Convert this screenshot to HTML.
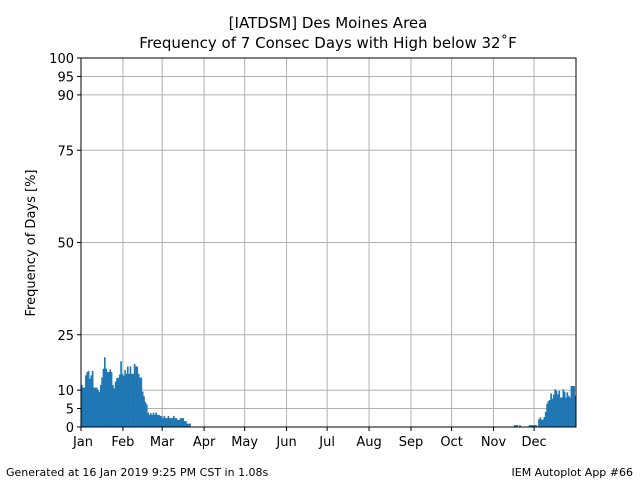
<!DOCTYPE html>
<html><head><meta charset="utf-8"><style>
body{margin:0;background:#fff;font-family:"Liberation Sans","DejaVu Sans",sans-serif}
</style></head><body>
<svg width="640" height="480" xmlns="http://www.w3.org/2000/svg" font-family="DejaVu Sans, Liberation Sans, sans-serif">
<text x="328" y="28" text-anchor="middle" font-size="15">[IATDSM] Des Moines Area</text>
<text x="328" y="48" text-anchor="middle" font-size="15">Frequency of 7 Consec Days with High below 32˚F</text>
<g id="grid"></g>
<g id="bars"></g>
<g id="axes"></g>
<text transform="translate(35,243) rotate(-90)" text-anchor="middle" font-size="13">Frequency of Days [%]</text>
<text x="6" y="476" font-size="11">Generated at 16 Jan 2019 9:25 PM CST in 1.08s</text>
<text x="633" y="476" text-anchor="end" font-size="11">IEM Autoplot App #66</text>
</svg>
<script>
const startValues=[11.4,10.7,10.7,14.0,14.9,15.2,13.1,14.0,15.2,10.7,10.7,10.7,10.1,9.5,11.4,13.4,15.8,18.9,15.8,14.9,14.9,15.6,14.9,11.4,10.5,12.3,13.3,13.3,14.2,17.8,14.4,13.9,15.4,14.4,16.4,14.4,16.4,14.4,14.4,17.1,16.4,16.4,14.4,13.4,13.4,9.6,8.3,6.8,6.1,3.9,3.3,3.7,3.3,3.9,3.3,3.9,3.3,3.3,3.0,3.0,2.4,3.0,2.4,2.4,3.0,2.4,2.4,2.4,3.0,2.4,2.4,1.9,1.9,2.4,2.4,2.4,1.6,1.6,0.9,0.9,0.9];
const endStartDay=320;
const endValues=[0.5,0.5,0.5,0,0.5,0,0,0,0,0,0,0.5,0.5,0.5,0.5,0.5,0.5,0,2.1,2.6,2.0,2.0,2.7,4.1,6.3,7.0,7.3,9.1,7.7,8.8,10.2,9.8,8.8,9.8,8.0,8.0,10.2,9.6,8.0,9.4,8.5,8.0,11.1,11.1,11.1,8.5];
const monthLabels=["Jan","Feb","Mar","Apr","May","Jun","Jul","Aug","Sep","Oct","Nov","Dec"];
const monthStarts=[0,31,60,91,121,152,182,213,244,274,305,335];
const yTicks=[0,5,10,25,50,75,90,95,100];
const NS="http://www.w3.org/2000/svg";
const X0=81,X1=576,Y0=427,Y1=58,NDAYS=366;
const xs=d=>X0+(X1-X0)*d/NDAYS;
const ys=v=>Y0-(Y0-Y1)*v/100;
function mk(t,a){const e=document.createElementNS(NS,t);for(const k in a)e.setAttribute(k,a[k]);return e;}
const grid=document.getElementById('grid'),bars=document.getElementById('bars'),axes=document.getElementById('axes');
const values=new Array(NDAYS).fill(0);
startValues.forEach((v,i)=>values[i]=v);
endValues.forEach((v,i)=>values[endStartDay+i]=v);
values.forEach((v,d)=>{if(v<=0)return;
 const r=mk('rect',{x:xs(d),y:ys(v),width:xs(d+1)-xs(d)+0.3,height:Y0-ys(v),fill:'#1f77b4'});
 
 
 bars.appendChild(r);});
yTicks.forEach(t=>{
 const y=ys(t);
 const g=mk('line',{x1:X0,x2:X1,y1:y,y2:y,stroke:'#b0b0b0','stroke-width':1});
 
 
 grid.appendChild(g);
 axes.appendChild(mk('line',{x1:X0-4,x2:X0,y1:y,y2:y,stroke:'#000'}));
 const tx=mk('text',{x:X0-7,y:y+5,'text-anchor':'end','font-size':13});
 tx.textContent=t;
 
 
 axes.appendChild(tx);});
monthStarts.forEach((d,i)=>{
 const x=xs(d);
 const g=mk('line',{x1:x,x2:x,y1:Y1,y2:Y0,stroke:'#b0b0b0','stroke-width':1});
 
 
 grid.appendChild(g);
 axes.appendChild(mk('line',{x1:x,x2:x,y1:Y0,y2:Y0+4,stroke:'#000'}));
 const tx=mk('text',{x:x+(i==0?2:0),y:Y0+19,'text-anchor':'middle','font-size':13});
 tx.textContent=monthLabels[i];
 
 
 axes.appendChild(tx);});
axes.appendChild(mk('rect',{x:X0,y:Y1,width:X1-X0,height:Y0-Y1,fill:'none',stroke:'#000','stroke-width':1}));
</script>
</body></html>
